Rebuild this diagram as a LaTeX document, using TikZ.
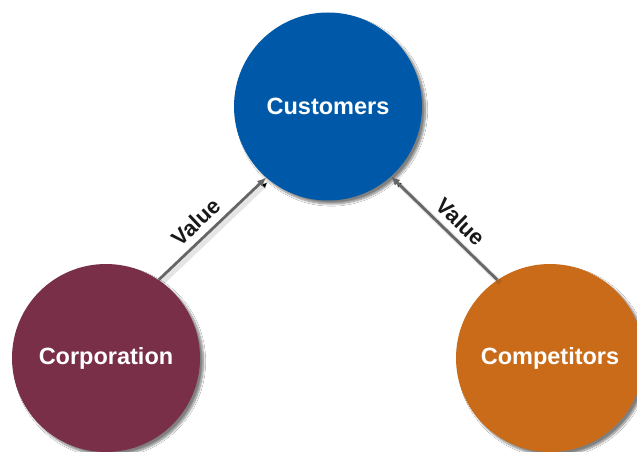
\documentclass[tikz,border=0pt]{standalone}
\usepackage{fontspec}
\setmainfont{Liberation Sans}
\usetikzlibrary{arrows.meta,shadows.blur}
\definecolor{custblue}{HTML}{0059A8}
\definecolor{corpred}{HTML}{7A2F49}
\definecolor{compor}{HTML}{C96B18}
\definecolor{arrgray}{HTML}{666666}
\tikzset{
  bubble/.style={circle, minimum size=188pt, inner sep=0pt, text=white,
    font=\fontsize{23.5}{26}\selectfont\bfseries,
    blur shadow={shadow xshift=3.5pt, shadow yshift=-3.5pt, shadow blur steps=8, shadow opacity=50}},
  valarrow/.style={draw=arrgray, line width=2.8pt, -{Latex[length=9pt,width=8pt]},
    preaction={draw=black, draw opacity=0.10, line width=5pt, transform canvas={xshift=3pt, yshift=-3pt}}},
  vallabel/.style={font=\fontsize{22}{24}\selectfont\bfseries, text=black!90, inner sep=2pt}
}
\begin{document}
\begin{tikzpicture}[x=1pt,y=-1pt]
\useasboundingbox (0,0) rectangle (637,452);
\clip (0,0) rectangle (637,452);
\fill[white] (0,0) rectangle (637,452);
\node[bubble, fill=custblue] (cust) at (328,106.5) {Customers};
\node[bubble, fill=corpred] (corp) at (106,358) {Corporation};
\node[bubble, fill=compor] (comp) at (550,358) {Competitors};
\draw[valarrow] (corp.56) -- node[vallabel, sloped, above=5pt, pos=0.45] (v1) {Value} (cust.229);
\draw[valarrow] (comp.124) -- node[vallabel, sloped, above=5pt, pos=0.45] (v2) {Value} (cust.312);
\end{tikzpicture}
\end{document}
